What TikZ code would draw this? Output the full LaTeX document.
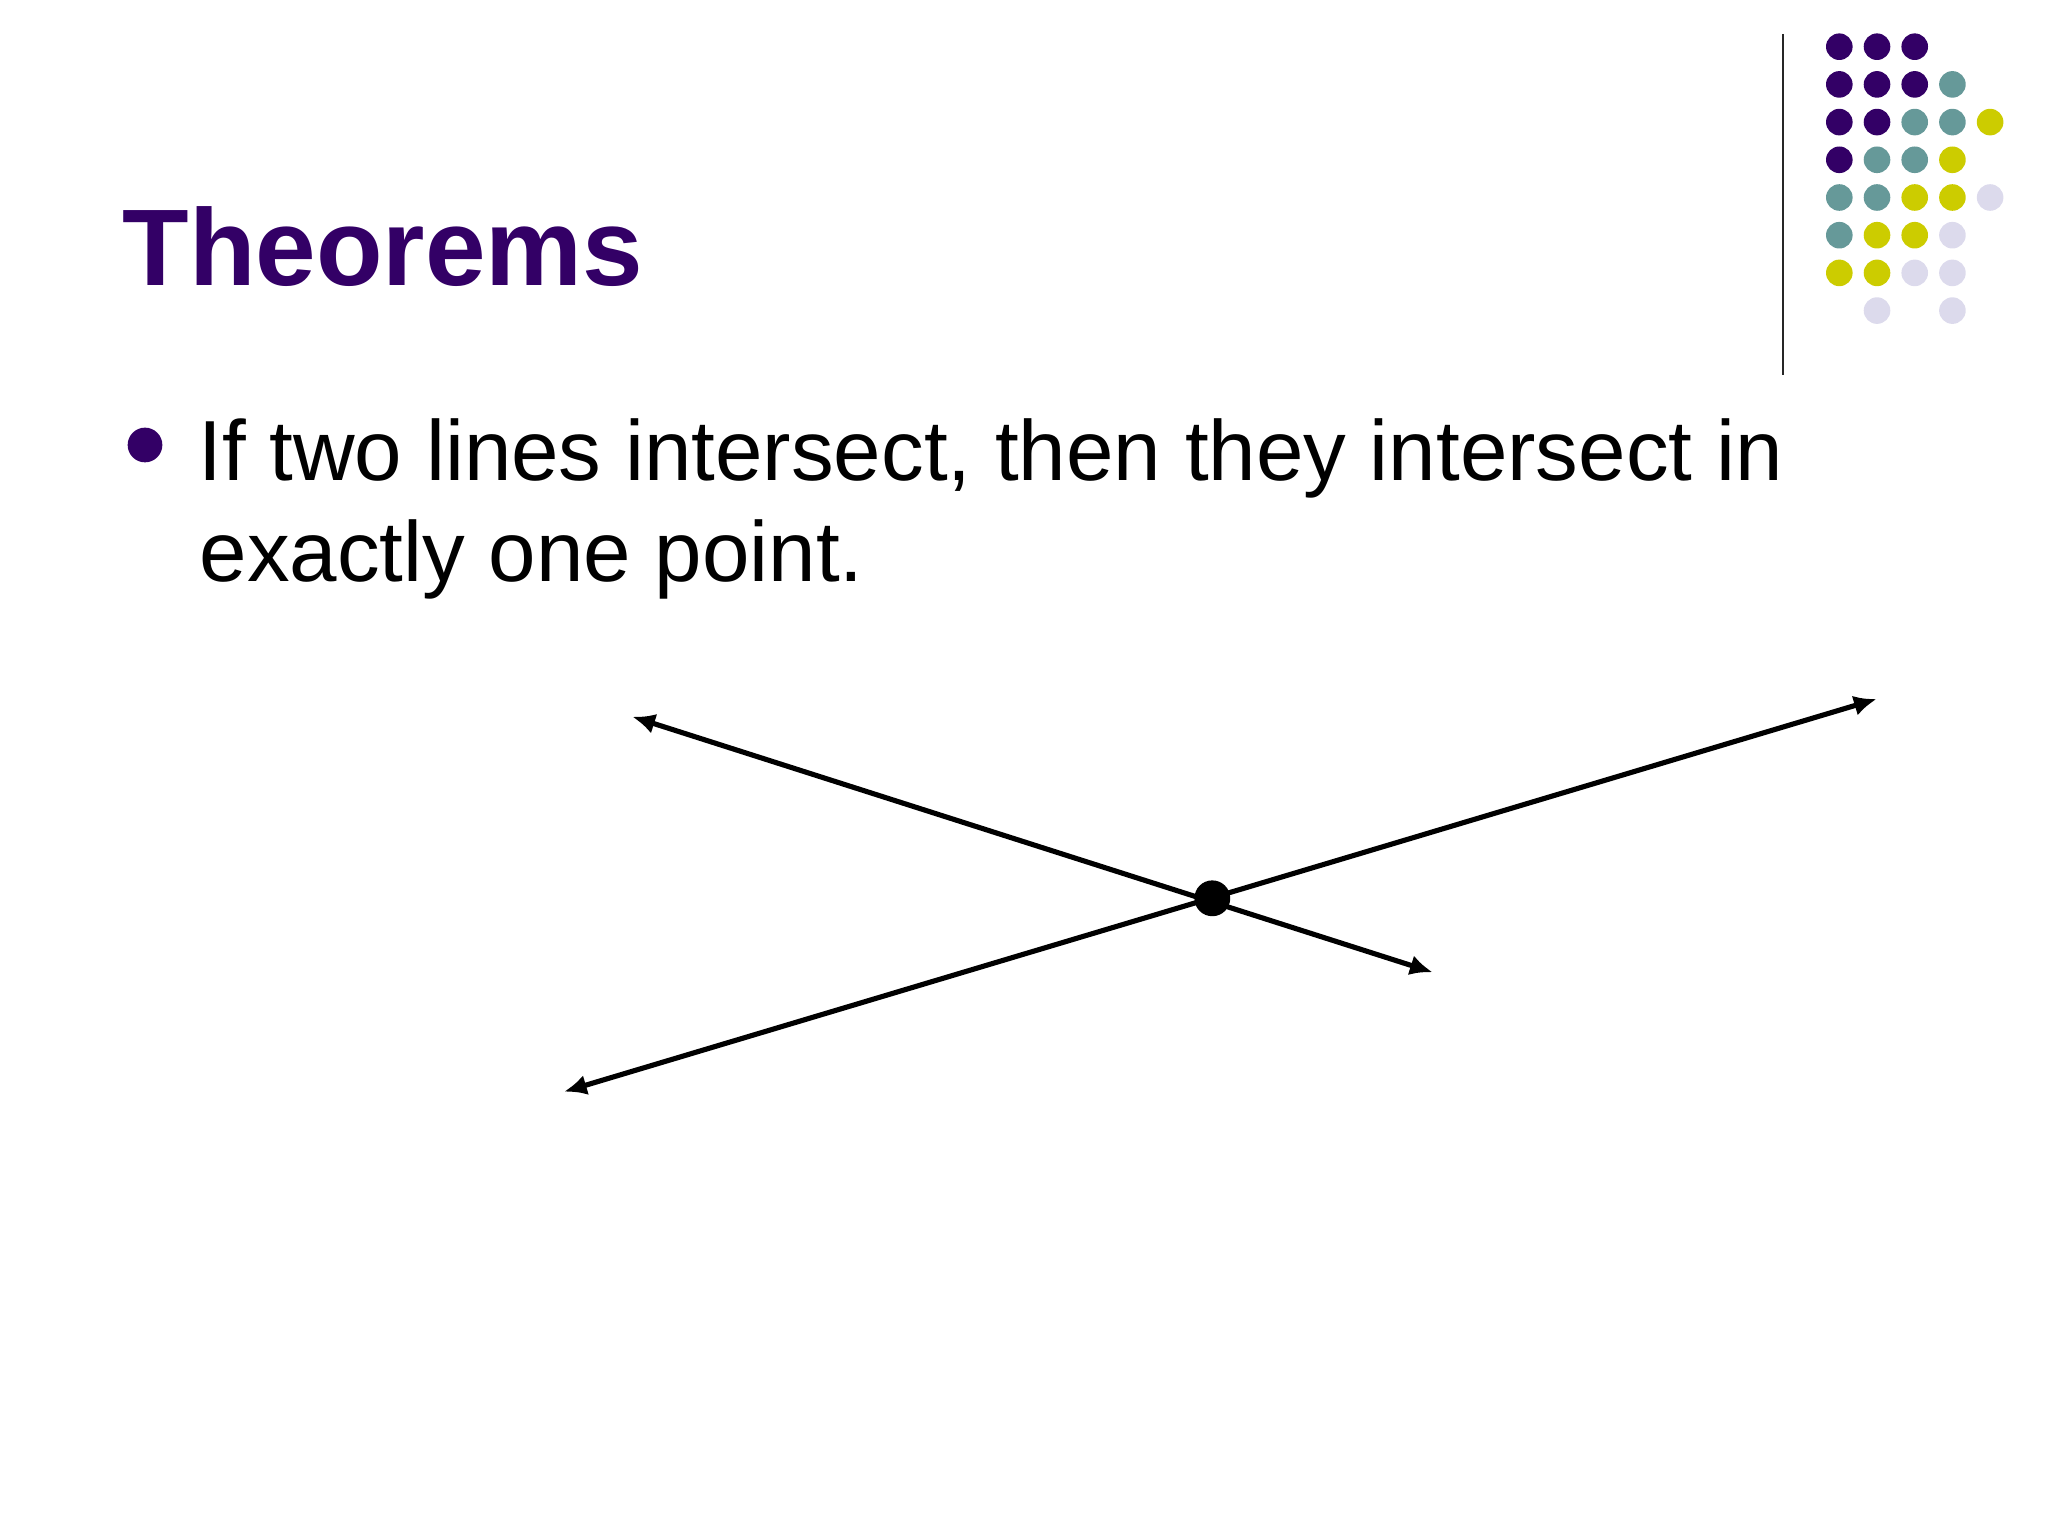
\documentclass[tikz,border=0pt]{standalone}
\usepackage{fontspec}
\setmainfont{Liberation Sans}
\usetikzlibrary{arrows.meta}
\usetikzlibrary{positioning}
\definecolor{dotpurple}{HTML}{330066}
\definecolor{dotteal}{HTML}{669999}
\definecolor{dotyellow}{HTML}{CCCC00}
\definecolor{dotlilac}{HTML}{DCDAEC}
\tikzset{
  slidetext/.style={anchor=base west,inner sep=0pt,font=\fontsize{30}{36}\selectfont},
  dline/.style={line width=1.8pt,{Latex[length=8pt,width=7.2pt]}-{Latex[length=8pt,width=7.2pt]}},
  pointdot/.style={circle,fill=black,inner sep=0pt,minimum size=12.6pt}
}
\begin{document}
\begin{tikzpicture}[x=0.3515625pt,y=-0.3515625pt]
      \useasboundingbox (0,0) rectangle (2048,1536);
      \node[anchor=base west,inner sep=0pt,text=dotpurple,font=\fontsize{38.3}{46}\selectfont\bfseries] (title) at (122,285.7) {Theorems};
      \draw[line width=0.8pt,black!85] (1783.3,34) coordinate (sepTop) -- (1783.3,375) coordinate (sepBot);
      \foreach \c/\r/\col in {1/1/dotpurple,2/1/dotpurple,3/1/dotpurple,
          1/2/dotpurple,2/2/dotpurple,3/2/dotpurple,4/2/dotteal,
          1/3/dotpurple,2/3/dotpurple,3/3/dotteal,4/3/dotteal,5/3/dotyellow,
          1/4/dotpurple,2/4/dotteal,3/4/dotteal,4/4/dotyellow,
          1/5/dotteal,2/5/dotteal,3/5/dotyellow,4/5/dotyellow,5/5/dotlilac,
          1/6/dotteal,2/6/dotyellow,3/6/dotyellow,4/6/dotlilac,
          1/7/dotyellow,2/7/dotyellow,3/7/dotlilac,4/7/dotlilac,
          2/8/dotlilac,4/8/dotlilac}
        \fill[\col] (1801.6+37.7*\c,9+37.7*\r) circle (13.3);
      \node[circle,fill=dotpurple,inner sep=0pt,minimum size=12.2pt] (bullet) at (145,445) {};
      \node[slidetext] (lineOne) at (198,481) {If two lines intersect, then they intersect in};
      \node[slidetext] (lineTwo) at (199,581.7) {exactly one point.};
      \coordinate (aEnd) at (632.3,716.7);
      \coordinate (bEnd) at (1432.7,972.3);
      \coordinate (cEnd) at (564,1091.7);
      \coordinate (dEnd) at (1876.7,699);
      \draw[dline] (aEnd) -- (bEnd);
      \draw[dline] (cEnd) -- (dEnd);
      \node[pointdot] (meet) at (1212.3,898.3) {};
    \end{tikzpicture}
\end{document}
